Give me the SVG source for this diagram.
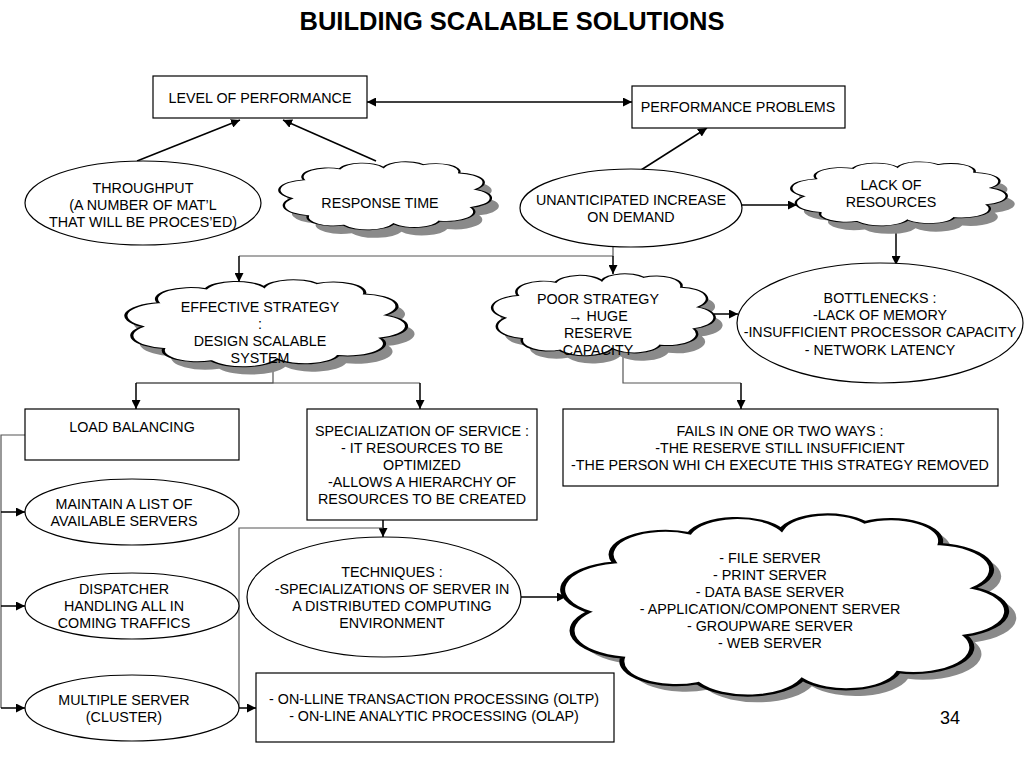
<svg xmlns="http://www.w3.org/2000/svg" width="1024" height="768" viewBox="0 0 1024 768">
<style>
text{font-family:"Liberation Sans",Arial,sans-serif;font-size:14.3px;fill:#000;text-anchor:middle}
.title{font-size:25.5px;font-weight:bold}
.box{fill:#fff;stroke:#000;stroke-width:1.2}
.ell{fill:#fff;stroke:#000;stroke-width:1.2}
.cl{fill:#fff;stroke:#000;stroke-width:1.2;vector-effect:non-scaling-stroke}
.sh{fill:#8a8a8a;stroke:none}
.ln{fill:none;stroke:#000;stroke-width:1.5}
.lg{fill:none;stroke:#555;stroke-width:1.2}
.arr{marker-end:url(#ah)}
</style>
<defs>
<marker id="ah" viewBox="0 0 10 10" refX="10" refY="5" markerWidth="9" markerHeight="9" markerUnits="userSpaceOnUse" orient="auto-start-reverse">
<path d="M0,0 L10,5 L0,10 Z" fill="#000"/>
</marker>
<path id="cloudpath" d="M4,55 A15,15 0 0 1 10,28 A13,13 0 0 1 28,12 A12,12 0 0 1 50,10 A11.5,11.5 0 0 1 70,6 A12,12 0 0 1 88,18 A14,14 0 0 1 96,42 A14,14 0 0 1 94,68 A14,14 0 0 1 78,88 A13,13 0 0 1 55,92 A14,14 0 0 1 30,94 A13,13 0 0 1 12,80 A15,15 0 0 1 4,55 Z"/>
</defs>
<rect width="1024" height="768" fill="#fff"/>
<text class="title" x="512" y="30">BUILDING SCALABLE SOLUTIONS</text>

<g id="connectors">
<line class="ln arr" x1="367" y1="102" x2="632" y2="102" marker-start="url(#ah)"/>
<line class="ln arr" x1="137" y1="161" x2="240" y2="120"/>
<line class="ln arr" x1="376" y1="161" x2="283" y2="120"/>
<line class="ln arr" x1="641" y1="170" x2="707" y2="128"/>
<line class="ln arr" x1="742" y1="205" x2="797" y2="205"/>
<line class="ln arr" x1="896" y1="228" x2="896" y2="265"/>
<polyline class="lg" points="613,246 613,256 239,256"/>
<line class="ln arr" x1="239" y1="256" x2="239" y2="282"/>
<line class="ln arr" x1="613" y1="256" x2="613" y2="274"/>
<line class="ln arr" x1="714" y1="314" x2="738" y2="314"/>
<polyline class="lg" points="273,366 273,383 136,383"/>
<line class="lg" x1="136" y1="383" x2="420" y2="383"/>
<line class="ln arr" x1="136" y1="383" x2="136" y2="409"/>
<line class="ln arr" x1="420" y1="383" x2="420" y2="409"/>
<polyline class="lg" points="623,355 623,383 741,383"/>
<line class="ln arr" x1="741" y1="383" x2="741" y2="409"/>
<polyline class="lg" points="25,435 1,435 1,708"/>
<line class="ln arr" x1="1" y1="512" x2="25" y2="512"/>
<line class="ln arr" x1="1" y1="606" x2="25" y2="606"/>
<line class="ln arr" x1="1" y1="708" x2="25" y2="708"/>
<line class="ln arr" x1="383" y1="520" x2="383" y2="537"/>
<polyline class="lg" points="383,528 239,528 239,708"/>
<line class="ln arr" x1="239" y1="708" x2="256" y2="708"/>
<line class="ln arr" x1="521" y1="597" x2="566" y2="597"/>
</g>

<g id="level-of-performance">
<rect class="box" x="153" y="76" width="214" height="42"/>
<text x="260" y="103">LEVEL OF PERFORMANCE</text>
</g>

<g id="performance-problems">
<rect class="box" x="632" y="86" width="213" height="42"/>
<text x="738" y="112">PERFORMANCE PROBLEMS</text>
</g>

<g id="throughput">
<ellipse class="ell" cx="143" cy="203" rx="118" ry="42"/>
<text x="143" y="193">THROUGHPUT</text>
<text x="143" y="210">(A NUMBER OF MAT’L</text>
<text x="143" y="227">THAT WILL BE PROCES’ED)</text>
</g>

<g id="response-time">
<use href="#cloudpath" class="sh" transform="translate(292,168.6) scale(1.991,0.687)"/>
<use href="#cloudpath" class="cl" transform="translate(284,160.6) scale(1.991,0.687)"/>
<text x="380" y="208">RESPONSE TIME</text>
</g>

<g id="unanticipated">
<ellipse class="ell" cx="631" cy="208" rx="111" ry="39"/>
<text x="631" y="205">UNANTICIPATED INCREASE</text>
<text x="631" y="222">ON DEMAND</text>
</g>

<g id="lack-of-resources">
<use href="#cloudpath" class="sh" transform="translate(804,168.7) scale(2.028,0.646)"/>
<use href="#cloudpath" class="cl" transform="translate(796,160.7) scale(2.028,0.646)"/>
<text x="891" y="190">LACK  OF</text>
<text x="891" y="207">RESOURCES</text>
</g>

<g id="bottlenecks">
<ellipse class="ell" cx="880" cy="323" rx="143" ry="60"/>
<text x="880" y="303">BOTTLENECKS :</text>
<text x="880" y="320">-LACK  OF MEMORY</text>
<text x="880" y="337">-INSUFFICIENT PROCESSOR CAPACITY</text>
<text x="880" y="355">- NETWORK LATENCY</text>
</g>

<g id="effective-strategy">
<use href="#cloudpath" class="sh" transform="translate(140,286) scale(2.642,0.879)"/>
<use href="#cloudpath" class="cl" transform="translate(132,278.2) scale(2.642,0.879)"/>
<text x="260" y="312">EFFECTIVE STRATEGY</text>
<text x="260" y="329">:</text>
<text x="260" y="346">DESIGN SCALABLE</text>
<text x="260" y="363">SYSTEM</text>
</g>

<g id="poor-strategy">
<use href="#cloudpath" class="sh" transform="translate(505,280) scale(2.094,0.828)"/>
<use href="#cloudpath" class="cl" transform="translate(497,272.3) scale(2.094,0.828)"/>
<text x="598" y="304">POOR STRATEGY</text>
<text x="598" y="321">→ HUGE</text>
<text x="598" y="338">RESERVE</text>
<text x="598" y="355">CAPACITY</text>
</g>

<g id="load-balancing">
<rect class="box" x="25" y="409" width="214" height="51"/>
<text x="132" y="432">LOAD BALANCING</text>
</g>

<g id="specialization">
<rect class="box" x="307" y="409" width="230" height="111"/>
<text x="422" y="436">SPECIALIZATION OF SERVICE :</text>
<text x="422" y="453">-  IT RESOURCES TO BE</text>
<text x="422" y="470">OPTIMIZED</text>
<text x="422" y="487">-ALLOWS A HIERARCHY  OF</text>
<text x="422" y="504">RESOURCES TO BE CREATED</text>
</g>

<g id="fails">
<rect class="box" x="563" y="409" width="435" height="77"/>
<text x="780" y="436">FAILS IN ONE OR TWO WAYS :</text>
<text x="780" y="453">-THE RESERVE  STILL INSUFFICIENT</text>
<text x="780" y="470">-THE PERSON WHI CH EXECUTE THIS STRATEGY REMOVED</text>
</g>

<g id="maintain-list">
<ellipse class="ell" cx="132" cy="512" rx="107" ry="33"/>
<text x="124" y="509">MAINTAIN A LIST OF</text>
<text x="124" y="526">AVAILABLE  SERVERS</text>
</g>

<g id="dispatcher">
<ellipse class="ell" cx="132" cy="606" rx="107" ry="33"/>
<text x="124" y="594">DISPATCHER</text>
<text x="124" y="611">HANDLING ALL IN</text>
<text x="124" y="628">COMING TRAFFICS</text>
</g>

<g id="multiple-server">
<ellipse class="ell" cx="132" cy="708" rx="107" ry="33"/>
<text x="124" y="705">MULTIPLE SERVER</text>
<text x="124" y="722">(CLUSTER)</text>
</g>

<g id="techniques">
<ellipse class="ell" cx="384" cy="597" rx="137" ry="60"/>
<text x="392" y="577">TECHNIQUES :</text>
<text x="392" y="594">-SPECIALIZATIONS OF SERVER IN</text>
<text x="392" y="611">A DISTRIBUTED COMPUTING</text>
<text x="392" y="628">ENVIRONMENT</text>
</g>

<g id="servers">
<use href="#cloudpath" class="sh" transform="translate(582,518) scale(4.179,1.828)"/>
<use href="#cloudpath" class="cl" transform="translate(572.4,511.3) scale(4.179,1.828)"/>
<text x="770" y="563">-  FILE SERVER</text>
<text x="770" y="580">- PRINT SERVER</text>
<text x="770" y="597">- DATA BASE SERVER</text>
<text x="770" y="614">- APPLICATION/COMPONENT SERVER</text>
<text x="770" y="631">- GROUPWARE SERVER</text>
<text x="770" y="648">- WEB SERVER</text>
</g>

<g id="oltp">
<rect class="box" x="256" y="673" width="358" height="69"/>
<text x="434" y="704">- ON-LLINE TRANSACTION PROCESSING (OLTP)</text>
<text x="434" y="721">-  ON-LINE ANALYTIC PROCESSING (OLAP)</text>
</g>

<text x="950" y="724" style="font-size:18px">34</text>
</svg>
